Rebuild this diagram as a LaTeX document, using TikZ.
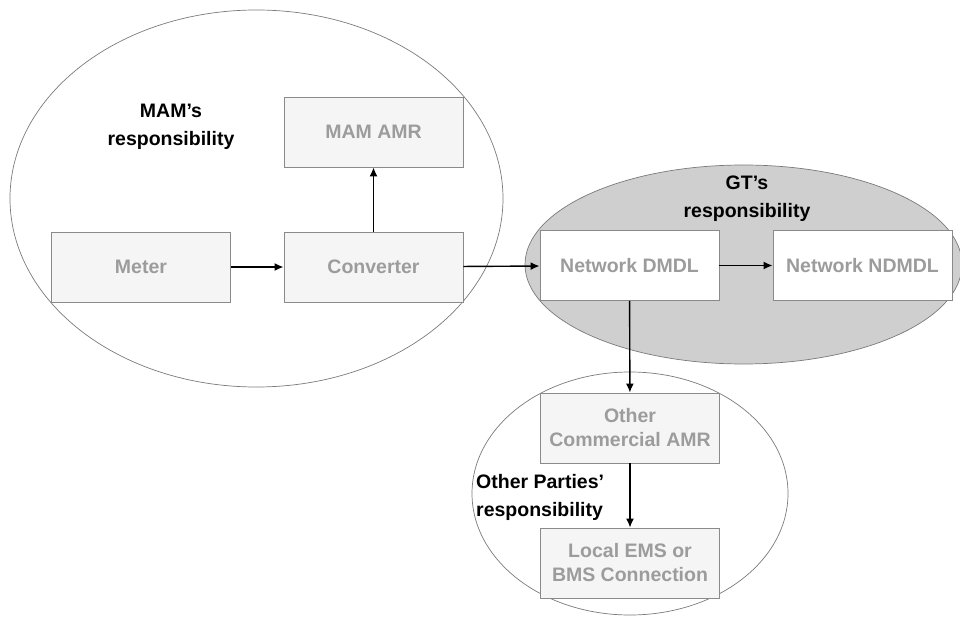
\documentclass[tikz,border=0pt]{standalone}
\usepackage{fontspec}
\setmainfont{Liberation Sans}
\usetikzlibrary{arrows.meta}
\definecolor{boxfill}{HTML}{F5F5F5}
\definecolor{boxline}{HTML}{8A8A8A}
\definecolor{boxtext}{HTML}{9C9C9C}
\definecolor{zoneline}{HTML}{7A7A7A}
\definecolor{gtfill}{HTML}{CFCFCF}
\tikzset{
  unitbox/.style={draw=boxline, line width=0.9pt, fill=boxfill,
    minimum width=179pt, minimum height=70pt, inner sep=2pt,
    text=boxtext, font=\fontsize{19.5}{24}\selectfont\bfseries,
    align=center},
  zone/.style={draw=zoneline, line width=0.7pt},
  zonelabel/.style={font=\fontsize{19.5}{28}\selectfont\bfseries, text=black},
  flow/.style={draw=black, line width=1.4pt, -{Latex[length=9pt,width=8pt]}}
}
\begin{document}
\begin{tikzpicture}[x=1pt,y=-1pt]
\useasboundingbox (0,0) rectangle (960,617);

% responsibility zones
\draw[zone] (256.5,198.5) ellipse [x radius=246.5, y radius=188.5];
\draw[zone, fill=gtfill] (743.5,264.5) ellipse [x radius=218.5, y radius=99.5];
\draw[zone] (630,493.5) ellipse [x radius=158, y radius=121.5];

% zone labels
\node[zonelabel, align=center] (mamlbl) at (171,127) {MAM’s\\responsibility};
\node[zonelabel, align=center] (gtlbl) at (747,199) {GT’s\\responsibility};
\node[zonelabel, align=left, anchor=west, inner sep=0pt] (otherlbl) at (476,497.5) {Other Parties’\\responsibility};

% units
\node[unitbox] (meter) at (141,267) {Meter};
\node[unitbox] (conv) at (373.5,267) {Converter};
\node[unitbox] (mamamr) at (373.5,132) {MAM AMR};
\node[unitbox, fill=white] (dmdl) at (629.5,265.5) {Network DMDL};
\node[unitbox, fill=white] (ndmdl) at (862.5,265.5) {Network NDMDL};
\node[unitbox] (otheramr) at (630,428) {Other\\Commercial AMR};
\node[unitbox] (ems) at (630,563) {Local EMS or\\BMS Connection};

% data flows
\draw[flow] (meter) -- (conv);
\draw[flow] (conv) -- (mamamr);
\draw[flow] (conv) -- (dmdl);
\draw[flow] (dmdl) -- (ndmdl);
\draw[flow] (dmdl) -- (otheramr);
\draw[flow] (otheramr) -- (ems);
\end{tikzpicture}
\end{document}
